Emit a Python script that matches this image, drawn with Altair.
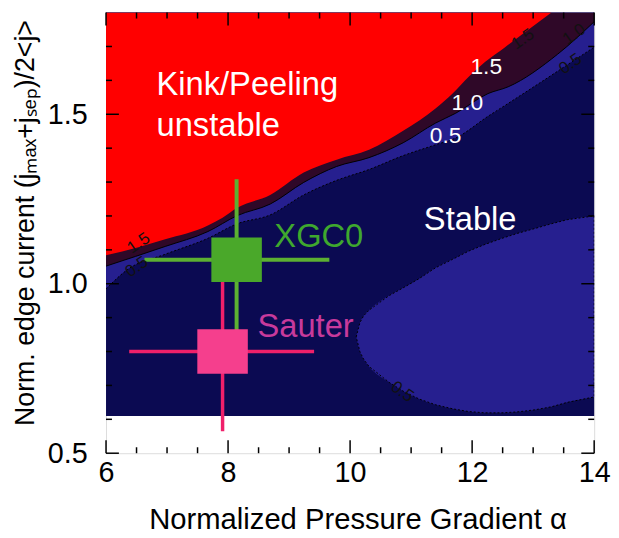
import altair as alt
import pandas as pd

# ---------------- axes ----------------
x_domain = [6, 14]
y_domain = [0.5, 1.8]
x_major = [6, 8, 10, 12, 14]
x_minor = [6.5, 7, 7.5, 8.5, 9, 9.5, 10.5, 11, 11.5, 12.5, 13, 13.5]
y_major = [0.5, 1.0, 1.5]
y_minor = [0.6, 0.7, 0.8, 0.9, 1.1, 1.2, 1.3, 1.4, 1.6, 1.7]

# ---------------- computed region ----------------
grid_x = [6, 14]
grid_y = [0.61, 1.8]

# red (kink/peeling unstable) boundary
red_x = [6.0, 6.53, 6.97, 7.67, 7.91, 8.15, 8.69, 9.24, 9.78, 10.31, 10.87, 11.40, 11.68, 11.94, 12.21, 12.54, 12.86, 13.30]
red_y = [1.084, 1.108, 1.131, 1.172, 1.195, 1.224, 1.262, 1.328, 1.366, 1.395, 1.451, 1.517, 1.561, 1.610, 1.654, 1.698, 1.741, 1.800]

# 1.0 contour (dark band / blue band)
mar_x = [6.0, 6.97, 7.67, 8.15, 8.69, 9.24, 9.78, 10.31, 10.87, 11.40, 11.73, 12.26, 12.59, 13.40, 14.0]
mar_y = [1.052, 1.110, 1.154, 1.201, 1.235, 1.299, 1.346, 1.372, 1.416, 1.474, 1.503, 1.561, 1.581, 1.677, 1.773]

# 0.5 contour (blue band / stable)
blu_x = [6.0, 6.37, 6.97, 7.67, 8.15, 8.69, 9.24, 9.78, 10.31, 10.87, 11.40, 11.73, 12.26, 12.59, 14.0]
blu_y = [0.985, 1.044, 1.087, 1.134, 1.177, 1.203, 1.262, 1.305, 1.337, 1.378, 1.410, 1.430, 1.494, 1.532, 1.698]

# 0.5 closed contour (lower right)
ell_x = [10.10, 10.16, 10.22, 10.31, 10.64, 10.87, 11.13, 11.40, 11.68, 11.94, 12.21, 12.49, 12.75, 13.03, 13.30, 13.56, 14.0]
ell_top = [0.843, 0.885, 0.905, 0.922, 0.965, 0.988, 1.015, 1.047, 1.072, 1.096, 1.116, 1.134, 1.149, 1.163, 1.177, 1.189, 1.200]
ell_bot = [0.843, 0.800, 0.778, 0.756, 0.709, 0.683, 0.660, 0.643, 0.631, 0.623, 0.619, 0.619, 0.622, 0.628, 0.637, 0.650, 0.666]

# ---------------- experimental points ----------------
markers = ["XGC0", "Sauter"]
mk_x = [8.14, 7.91]
mk_y = [1.071, 0.800]
mk_xlo = [6.63, 6.38]
mk_xhi = [9.66, 9.41]
mk_ylo = [0.863, 0.565]
mk_yhi = [1.308, 1.035]

region_labels = ["Kink/Peeling", "unstable", "Stable"]
contour_labels = ["1.5", "1.0", "0.5"]

# ---------------- styling ----------------
W, H = 493, 445
FONT = "Liberation Sans"
NAVY = "#0b0a52"
BLUE = "#261f8f"
MAROON = "#2f0828"
RED = "#ff0000"

xsc = alt.Scale(domain=x_domain, nice=False, zero=False)
ysc = alt.Scale(domain=y_domain, nice=False, zero=False)

xax = alt.Axis(values=x_major, ticks=False, domain=False, grid=False,
               labelFontSize=29, labelFont=FONT, labelColor="black", labelPadding=6,
               labelFlush=False, labelOverlap=False,
               title="Normalized Pressure Gradient \u03b1", titleFontSize=29.5, titleFont=FONT,
               titleFontWeight="normal", titleColor="black",
               titleX=254, titleY=67, titleAlign="center", titleBaseline="middle")
yax = alt.Axis(values=y_major, format=".1f", ticks=False, domain=False, grid=False,
               labelFontSize=29, labelFont=FONT, labelColor="black", labelPadding=19,
               labelFlush=False, labelOverlap=False,
               title="Norm. edge current (j\u2098\u2090\u2093+j\u209b\u2091\u209a)/2<j>",
               titleFontSize=27, titleFont=FONT, titleFontWeight="normal", titleColor="black",
               titleX=-81, titleY=212, titleAngle=270, titleAlign="center", titleBaseline="middle")


def X(f="x"):
    return alt.X(f"{f}:Q", scale=xsc, axis=xax)


def Y(f="y"):
    return alt.Y(f"{f}:Q", scale=ysc, axis=yax)


# background of computed region
bg = alt.Chart(pd.DataFrame({"x": [grid_x[0]], "x2": [grid_x[1]], "y": [grid_y[0]], "y2": [grid_y[1]]})).mark_rect(
    color=NAVY).encode(x=X(), x2="x2:Q", y=Y(), y2="y2:Q")

ell_df = pd.DataFrame({"x": ell_x, "y": ell_top, "y2": ell_bot})
ellipse = alt.Chart(ell_df).mark_area(color=BLUE, orient="vertical", clip=True, interpolate="monotone").encode(
    x=X(), y=Y(), y2="y2:Q")


def band(xs, ys, color):
    df = pd.DataFrame({"x": xs, "y": ys, "top": [y_domain[1]] * len(xs)})
    return alt.Chart(df).mark_area(color=color, orient="vertical", clip=True, interpolate="monotone").encode(
        x=X(), y=Y(), y2="top:Q")


blue_band = band(blu_x, blu_y, BLUE)
maroon_band = band(mar_x, mar_y, MAROON)
red_band = band(red_x, red_y, RED)

# contour lines
line_mar = alt.Chart(pd.DataFrame({"x": mar_x, "y": mar_y})).mark_line(
    color="black", strokeWidth=1, clip=True, interpolate="monotone").encode(x=X(), y=Y())
line_blu = alt.Chart(pd.DataFrame({"x": blu_x, "y": blu_y})).mark_line(
    color="black", strokeWidth=1, strokeDash=[2, 2], clip=True, interpolate="monotone").encode(x=X(), y=Y())
ell_outline = pd.DataFrame({
    "x": ell_x + ell_x[::-1],
    "y": ell_top + ell_bot[::-1],
    "o": list(range(2 * len(ell_x))),
})
line_ell = alt.Chart(ell_outline).mark_line(
    color="black", strokeWidth=1, strokeDash=[2, 2], clip=True).encode(x=X(), y=Y(), order="o:Q")

# inward ticks on all four sides
MAJ, MIN = 13, 6
tick_layers = []
for vals, ln in [(x_major, MAJ), (x_minor, MIN)]:
    d = pd.DataFrame({"x": vals})
    tick_layers.append(alt.Chart(d).mark_rule(color="black", strokeWidth=1.5).encode(
        x=X(), y=alt.value(H), y2=alt.value(H - ln)))
    tick_layers.append(alt.Chart(d).mark_rule(color="black", strokeWidth=1.5).encode(
        x=X(), y=alt.value(0), y2=alt.value(ln)))
for vals, ln in [(y_major, MAJ), (y_minor, MIN)]:
    d = pd.DataFrame({"y": vals})
    tick_layers.append(alt.Chart(d).mark_rule(color="black", strokeWidth=1.5).encode(
        y=Y(), x=alt.value(0), x2=alt.value(ln)))
    tick_layers.append(alt.Chart(d).mark_rule(color="black", strokeWidth=1.5).encode(
        y=Y(), x=alt.value(W), x2=alt.value(W - ln)))

# experimental points with error bars
mk_df = pd.DataFrame({"name": markers, "x": mk_x, "y": mk_y, "xlo": mk_xlo, "xhi": mk_xhi,
                      "ylo": mk_ylo, "yhi": mk_yhi})
SQUARE = "M-1,-0.88L1,-0.88L1,0.88L-1,0.88Z"


def errbars(name, color, sw):
    d = mk_df[mk_df["name"] == name]
    h = alt.Chart(d).mark_rule(color=color, strokeWidth=sw).encode(x=X("xlo"), x2="xhi:Q", y=Y())
    v = alt.Chart(d).mark_rule(color=color, strokeWidth=sw).encode(x=X(), y=Y("ylo"), y2="yhi:Q")
    return [h, v]


def square(name, color):
    d = mk_df[mk_df["name"] == name]
    return alt.Chart(d).mark_point(shape=SQUARE, filled=True, size=2601, color=color, opacity=1,
                                   strokeWidth=0).encode(x=X(), y=Y())


points = errbars("Sauter", "#f0206a", 3.5) + errbars("XGC0", "#5cb032", 4) + [
    square("Sauter", "#f53f8d"), square("XGC0", "#4aa82a")]


# text annotations
def txt(t, px, py, size, color, align="left", baseline="alphabetic", angle=0):
    kw = dict(text=t, fontSize=size, font=FONT, color=color, align=align, baseline=baseline)
    if angle:
        kw["angle"] = angle
    return alt.Chart(pd.DataFrame({"t": [t]})).mark_text(**kw).encode(x=alt.value(px), y=alt.value(py))


texts = [
    txt(region_labels[0], 51, 83, 33, "white"),
    txt(region_labels[1], 51, 125, 33, "white"),
    txt(region_labels[2], 321, 220, 33, "white"),
    txt(markers[0], 170, 237, 33, "#3fa82e"),
    txt(markers[1], 153, 328, 33, "#c83a9c"),
    txt(contour_labels[0], 384, 55, 23, "white", "center", "middle"),
    txt(contour_labels[1], 365, 91, 23, "white", "center", "middle"),
    txt(contour_labels[2], 343, 125, 23, "white", "center", "middle"),
    txt(contour_labels[0], 33, 233, 17, "#111111", "center", "middle", 325),
    txt(contour_labels[2], 31, 257, 17, "#111111", "center", "middle", 325),
    txt(contour_labels[0], 421, 27, 17, "#111111", "center", "middle", 325),
    txt(contour_labels[1], 473, 22, 17, "#111111", "center", "middle", 325),
    txt(contour_labels[2], 469, 52, 17, "#111111", "center", "middle", 325),
    txt(contour_labels[2], 299, 383, 17, "#111111", "center", "middle", 35),
]

chart = alt.layer(
    bg, ellipse, blue_band, maroon_band, red_band, line_mar, line_blu, line_ell,
    *points, *tick_layers, *texts
).properties(
    width=W, height=H,
    autosize=alt.AutoSizeParams(type="none"),
    padding={"left": 99, "top": 2, "right": 17, "bottom": 82},
).configure_view(stroke="black", strokeWidth=2).configure(font=FONT)

chart.save("out.html", embed_options={"renderer": "svg", "actions": False})
